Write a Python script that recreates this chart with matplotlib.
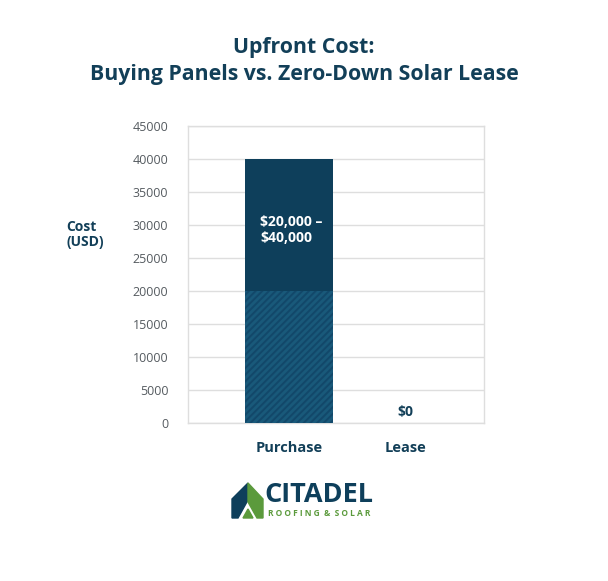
import matplotlib
matplotlib.use("Agg")
import matplotlib.pyplot as plt
from matplotlib.patches import Polygon

plt.rcParams['font.family'] = ['Open Sans', 'DejaVu Sans']
plt.rcParams['hatch.linewidth'] = 1.4

categories = ["Purchase", "Lease"]
low_cost = [20000, 0]
high_cost = [40000, 0]
range_labels = ["$20,000 –\n$40,000", "$0"]
yticks = [0, 5000, 10000, 15000, 20000, 25000, 30000, 35000, 40000, 45000]

DARK = "#0e3f5b"
MID = "#19597a"
HATCH = "#12486a"
TEXT = "#123f58"
GREEN = "#5b9a3c"

fig = plt.figure(figsize=(6.08, 5.81), dpi=100)
ax = fig.add_axes([0.309, 0.272, 0.487, 0.511])

x = list(range(len(categories)))
ax.bar(x, low_cost, width=0.76, color=MID, edgecolor=HATCH, hatch="/////", linewidth=0, zorder=3)
ax.bar(x, [h - l for h, l in zip(high_cost, low_cost)], bottom=low_cost, width=0.76,
       color=DARK, linewidth=0, zorder=3)

ax.set_xlim(-0.87, 1.68)
ax.set_ylim(0, 45000)
ax.set_yticks(yticks)
ax.set_yticklabels([str(v) for v in yticks], color="#555b60", fontsize=9)
ax.set_xticks(x)
ax.set_xticklabels(categories, fontsize=10.5, fontweight="bold", color=TEXT)
ax.tick_params(axis='y', length=0, pad=14)
ax.tick_params(axis='x', length=0, pad=13)
ax.grid(axis='y', color="#dedede", linewidth=1, zorder=0)
for s in ax.spines.values():
    s.set_color("#dedede")
    s.set_linewidth(1)

# value labels
ax.text(x[0] - 0.245, 29300, range_labels[0], color="white",
        fontsize=10, fontweight="bold", ha="left", va="center", linespacing=1.2, zorder=4)
ax.text(x[1], 1600, range_labels[1], color=TEXT, fontsize=10, fontweight="bold",
        ha="center", va="center", zorder=4)

ax.set_ylabel("Cost\n(USD)", rotation=0, fontsize=10, fontweight="bold", color=TEXT,
              ha="left", va="center", linespacing=1.1, multialignment="left")
ax.yaxis.set_label_coords(-0.41, 0.635)

fig.text(0.5, 1 - 47 / 581, "Upfront Cost:", ha="center", va="center", fontsize=15.3,
         fontweight="bold", color=TEXT)
fig.text(0.5, 1 - 74 / 581, "Buying Panels vs. Zero-Down Solar Lease", ha="center", va="center",
         fontsize=15.3, fontweight="bold", color=TEXT)

# logo
W, H = 608, 581
def fp(px, py):
    return (px / W, 1 - py / H)
fig.patches.append(Polygon([fp(232, 518), fp(232, 499), fp(248, 483), fp(248, 500), fp(238, 518)],
                           closed=True, transform=fig.transFigure, color=DARK))
fig.patches.append(Polygon([fp(248, 483), fp(263, 499), fp(263, 518), fp(257, 518), fp(248, 502)],
                           closed=True, transform=fig.transFigure, color=GREEN))
fig.patches.append(Polygon([fp(243, 518), fp(248, 509), fp(253, 518)],
                           closed=True, transform=fig.transFigure, color=GREEN))
fig.text(264 / W, 1 - 495 / H, "CITADEL", ha="left", va="center", fontsize=19.5,
         fontweight="bold", color=DARK)
fig.text(268 / W, 1 - 513 / H, "R O O F I N G  &  S O L A R", ha="left", va="center", fontsize=6,
         fontweight="bold", color=GREEN)

fig.savefig("out.png", dpi=100, facecolor="white")
